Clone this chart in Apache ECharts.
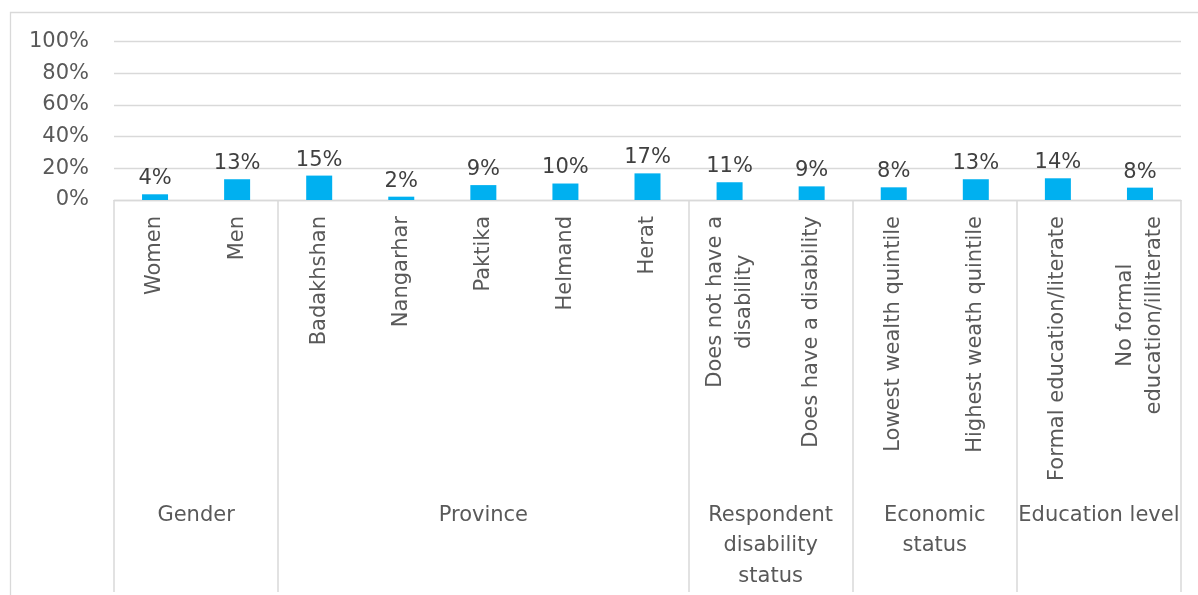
<!DOCTYPE html>
<html>
<head>
<meta charset="utf-8">
<script src="https://cdn.jsdelivr.net/npm/echarts@6/dist/echarts.min.js"></script>
<style>
  html, body { margin: 0; padding: 0; background: #ffffff; }
  #chart { width: 1198px; height: 595px; }
</style>
</head>
<body>
<div id="chart"></div>
<script>
// ---- data ----
const categories = [
  'Women', 'Men',
  'Badakhshan', 'Nangarhar', 'Paktika', 'Helmand', 'Herat',
  'Does not have a\ndisability', 'Does have a disability',
  'Lowest wealth quintile', 'Highest weath quintile',
  'Formal education/literate', 'No formal\neducation/illiterate'
];
const values = [3.6, 13.1, 15.4, 2.1, 9.4, 10.4, 16.8, 11.2, 8.6, 8.0, 13.1, 13.7, 7.8];
const groupNames = ['Gender', 'Province', 'Respondent\ndisability\nstatus', 'Economic\nstatus', 'Education level'];
const groupSizes = [2, 5, 2, 2, 2];
const yTicks = [0, 20, 40, 60, 80, 100];

// ---- derived group axis (half-category positions) ----
const nHalf = categories.length * 2 + 1;
const groupAxisData = new Array(nHalf).fill('');
const boundarySet = new Set([0]);
const centerSet = new Set();
let acc = 0;
groupSizes.forEach((s, i) => {
  const center = acc * 2 + s;
  groupAxisData[center] = groupNames[i];
  centerSet.add(center);
  acc += s;
  boundarySet.add(acc * 2);
});

const FONT = 'DejaVu Sans';
const chart = echarts.init(document.getElementById('chart'), null, { renderer: 'canvas' });

chart.setOption({
  animation: false,
  backgroundColor: '#ffffff',
  graphic: [{
    type: 'rect',
    silent: true,
    shape: { x: 10.5, y: 12.5, width: 1200, height: 600 },
    style: { fill: 'none', stroke: '#d9d9d9', lineWidth: 1.3 }
  }],
  grid: { left: 114, right: 17, top: 41.5, bottom: 395, containLabel: false },
  xAxis: [
    {
      type: 'category',
      data: categories,
      boundaryGap: true,
      axisLine: { show: true, lineStyle: { color: '#d9d9d9', width: 1.3 } },
      axisTick: { show: false },
      axisLabel: {
        interval: 0,
        rotate: 90,
        margin: 16,
        color: '#595959',
        fontFamily: FONT,
        fontSize: 21,
        lineHeight: 29,
        formatter: function (v) {
          if (v.indexOf('\n') >= 0) {
            return v.split('\n').map(l => '{c|' + l + '}').join('\n');
          }
          return v;
        },
        rich: {
          c: { align: 'center', color: '#595959', fontFamily: FONT, fontSize: 21, lineHeight: 29 }
        }
      }
    },
    {
      type: 'category',
      data: groupAxisData,
      boundaryGap: false,
      position: 'bottom',
      gridIndex: 0,
      axisLine: { show: false },
      axisTick: {
        show: true,
        length: 392,
        interval: function (idx) { return boundarySet.has(idx); },
        lineStyle: { color: '#d9d9d9', width: 1.5 }
      },
      axisLabel: {
        interval: function (idx) { return centerSet.has(idx); },
        margin: 300,
        color: '#595959',
        fontFamily: FONT,
        fontSize: 21,
        lineHeight: 30.5,
        align: 'center'
      },
      splitLine: { show: false }
    }
  ],
  yAxis: {
    type: 'value',
    min: 0,
    max: 100,
    interval: 20,
    axisLine: { show: false },
    axisTick: { show: false },
    splitLine: { show: true, lineStyle: { color: '#d9d9d9', width: 1.3 } },
    axisLabel: {
      margin: 25,
      color: '#595959',
      fontFamily: FONT,
      fontSize: 21,
      formatter: '{value}%'
    }
  },
  series: [{
    type: 'bar',
    data: values,
    barWidth: 26,
    itemStyle: { color: '#00B0F0' },
    label: {
      show: true,
      position: 'top',
      distance: 5,
      color: '#404040',
      fontFamily: FONT,
      fontSize: 21,
      formatter: function (p) { return Math.round(p.value) + '%'; }
    }
  }]
});
</script>
</body>
</html>
